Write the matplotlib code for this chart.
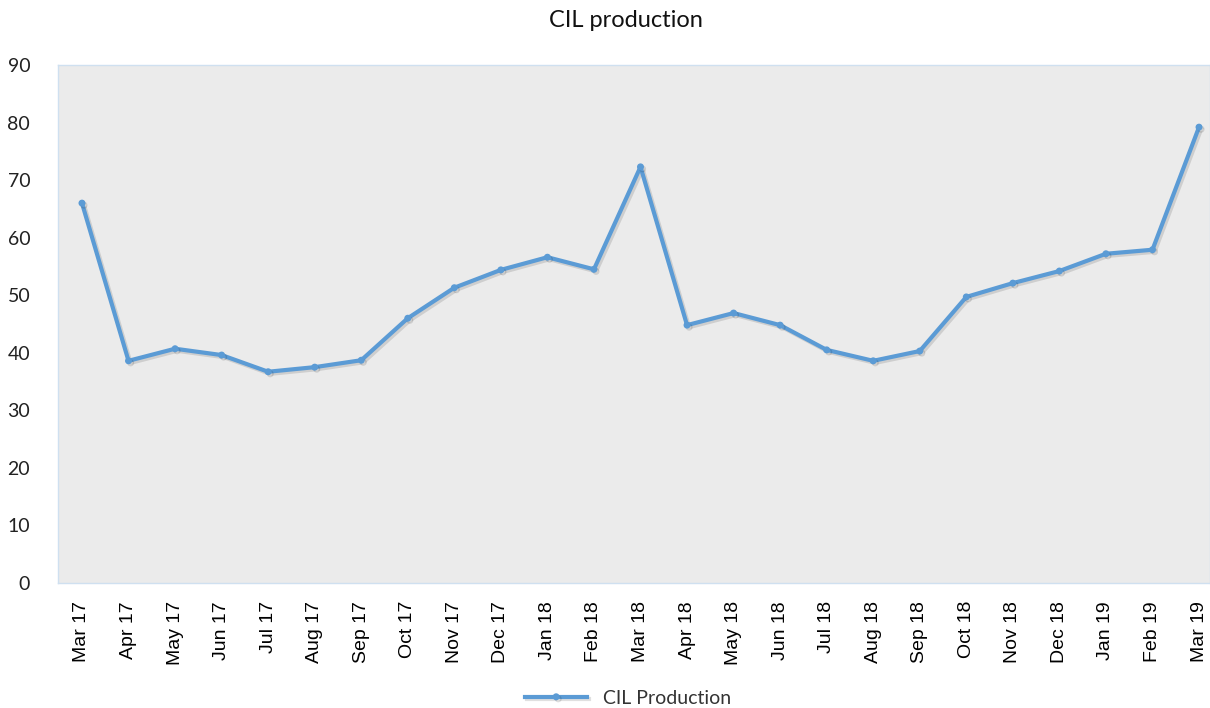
import matplotlib.pyplot as plt
import matplotlib.patheffects as pe

months = ["Mar 17", "Apr 17", "May 17", "Jun 17", "Jul 17", "Aug 17", "Sep 17",
          "Oct 17", "Nov 17", "Dec 17", "Jan 18", "Feb 18", "Mar 18", "Apr 18",
          "May 18", "Jun 18", "Jul 18", "Aug 18", "Sep 18", "Oct 18", "Nov 18",
          "Dec 18", "Jan 19", "Feb 19", "Mar 19"]
production = [66.0, 38.6, 40.7, 39.6, 36.7, 37.5, 38.7, 46.0, 51.3, 54.4, 56.6,
              54.5, 72.3, 44.8, 46.9, 44.8, 40.5, 38.6, 40.3, 49.7, 52.1, 54.2,
              57.2, 57.9, 79.2]
yticks = [0, 10, 20, 30, 40, 50, 60, 70, 80, 90]

fig = plt.figure(figsize=(12.1, 7.08), dpi=100)
ax = fig.add_axes([0.0479, 0.1766, 0.9521, 0.7316])
ax.set_facecolor("#ebebeb")

x = list(range(len(months)))
ax.plot(x, production, color="#5b9bd5", lw=3, marker="o", ms=4,
        label="CIL Production",
        path_effects=[pe.SimpleLineShadow(offset=(1.5, -1.5), alpha=0.12, shadow_color="black"),
                      pe.Normal()])

ax.set_xlim(-0.516, len(months) - 1 + 0.236)
ax.set_ylim(0, 90)
ax.set_yticks(yticks)
ax.set_xticks(x)
ax.set_xticklabels(months, rotation=90, fontsize=14, family="Liberation Sans",
                   color="#000000")
ax.tick_params(axis="y", labelsize=14, colors="#222222", length=0, pad=20)
ax.tick_params(axis="x", length=0, pad=13)
for lab in ax.get_yticklabels():
    lab.set_family("Lato")

for s in ax.spines.values():
    s.set_color("#cfe0f0")
    s.set_linewidth(1)

fig.text(0.517, 0.971, "CIL production", ha="center", va="center", fontsize=17,
         family="Lato", color="#111111")

fig.legend(loc="center", bbox_to_anchor=(0.519, 0.014), frameon=False,
           prop={"family": "Lato", "size": 14}, handlelength=3.2,
           labelcolor="#333333")

fig.savefig("out.png", dpi=100)
